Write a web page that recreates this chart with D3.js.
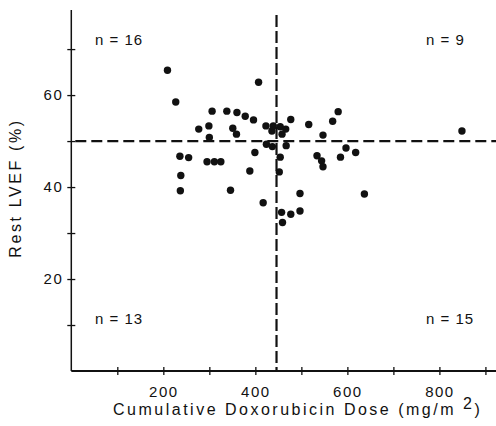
<!DOCTYPE html>
<html>
<head>
<meta charset="utf-8">
<script src="https://cdn.jsdelivr.net/npm/d3@7"></script>
<style>
  body { margin: 0; background: #fff; }
  text { font-family: "Liberation Sans", Arial, sans-serif; fill: #111; }
</style>
</head>
<body>
<script>
// LVEF vs cumulative doxorubicin dose scatter

// data
var dose = [209, 227, 306, 338, 360, 378, 396, 277, 299, 351, 359, 300, 407, 423, 436, 439,
            454, 466, 458, 477, 516, 568, 580, 547, 849,
            236, 255, 295, 311, 325, 399, 388, 238, 237, 346, 417, 424, 437,
            467, 454, 452, 534, 544, 547, 597, 618, 585, 497, 637, 457, 477, 497, 459];
var lvef = [65.4, 58.5, 56.5, 56.5, 56.2, 55.4, 54.6, 52.6, 53.3, 52.8, 51.5, 50.8, 62.8, 53.3, 52.2, 53.3,
            53.1, 52.6, 51.5, 54.7, 53.6, 54.3, 56.4, 51.3, 52.2,
            46.7, 46.4, 45.5, 45.5, 45.5, 47.5, 43.5, 42.5, 39.2, 39.3, 36.6, 49.3, 48.8,
            49.0, 46.5, 43.3, 46.8, 45.7, 44.4, 48.5, 47.5, 46.5, 38.6, 38.5, 34.5, 34.1, 34.8, 32.3];

var xTicks = [100, 200, 300, 400, 500, 600, 700, 800, 900];
var xLabels = [200, 400, 600, 800];
var yTicks = [10, 20, 30, 40, 50, 60, 70];
var yLabels = [20, 40, 60];

var cutDose = 446;
var cutLvef = 50;

var quadLabels = ["n = 16", "n = 9", "n = 13", "n = 15"];

var width = 496;
var height = 426;

// scales
var x = d3.scaleLinear().domain([0, 923]).range([71.3, 496]);
var y = d3.scaleLinear().domain([0, 78.5]).range([371, 10]);

var svg = d3.select("body").append("svg")
    .attr("width", width)
    .attr("height", height);

// axes
var xAxis = svg.append("g")
    .attr("transform", "translate(0," + y(0) + ")")
    .call(d3.axisBottom(x).tickValues(xTicks).tickSize(0).tickPadding(15)
      .tickFormat(function(d) { return xLabels.indexOf(d) >= 0 ? d : ""; }));

var yAxis = svg.append("g")
    .attr("transform", "translate(" + x(0) + ",0)")
    .call(d3.axisLeft(y).tickValues(yTicks).tickSize(0).tickPadding(8)
      .tickFormat(function(d) { return yLabels.indexOf(d) >= 0 ? d : ""; }));

// custom domain lines so they run edge to edge
xAxis.select(".domain").remove();
yAxis.select(".domain").remove();
svg.append("line")
    .attr("x1", x(0)).attr("x2", width)
    .attr("y1", y(0)).attr("y2", y(0))
    .attr("stroke", "#111").attr("stroke-width", 2);
svg.append("line")
    .attr("x1", x(0)).attr("x2", x(0))
    .attr("y1", y(78.5)).attr("y2", y(0))
    .attr("stroke", "#111").attr("stroke-width", 1.5);

// crossing ticks
xAxis.selectAll(".tick line").attr("y1", -4).attr("y2", 4).attr("stroke", "#111").attr("stroke-width", 1.3);
yAxis.selectAll(".tick line").attr("x1", -4).attr("x2", 4).attr("stroke", "#111").attr("stroke-width", 1.3);

svg.selectAll(".tick text")
    .style("font-family", "'Liberation Sans', Arial, sans-serif")
    .style("font-size", "15px")
    .style("letter-spacing", "1.5px")
    .attr("fill", "#111");

// axis titles
var xTitle = svg.append("text")
    .attr("x", 113)
    .attr("y", 415)
    .style("font-size", "16px")
    .style("letter-spacing", "2.5px")
    .text("Cumulative Doxorubicin Dose (mg/m ");
xTitle.append("tspan")
    .attr("dy", -6)
    .text("2");
xTitle.append("tspan")
    .attr("dy", 6)
    .text(")");

svg.append("text")
    .attr("transform", "translate(21," + 188 + ") rotate(-90)")
    .attr("text-anchor", "middle")
    .style("font-size", "16px")
    .style("letter-spacing", "2.6px")
    .text("Rest LVEF (%)");

// dashed cut lines
svg.append("line")
    .attr("x1", x(0) + 4).attr("x2", width)
    .attr("y1", y(cutLvef)).attr("y2", y(cutLvef))
    .attr("stroke", "#111").attr("stroke-width", 2.2)
    .attr("stroke-dasharray", "11,5");
svg.append("line")
    .attr("x1", x(cutDose)).attr("x2", x(cutDose))
    .attr("y1", 15).attr("y2", y(0))
    .attr("stroke", "#111").attr("stroke-width", 2.2)
    .attr("stroke-dasharray", "12,4");

// points
svg.selectAll(".dot")
    .data(dose)
  .enter().append("circle")
    .attr("class", "dot")
    .attr("cx", function(d) { return x(d); })
    .attr("cy", function(d, i) { return y(lvef[i]); })
    .attr("r", 3.7)
    .attr("fill", "#111");

// quadrant counts
var quadPos = [[95, 45], [426, 45], [95, 324], [426, 324]];
svg.selectAll(".quad")
    .data(quadLabels)
  .enter().append("text")
    .attr("class", "quad")
    .attr("x", function(d, i) { return quadPos[i][0]; })
    .attr("y", function(d, i) { return quadPos[i][1]; })
    .style("font-size", "15px")
    .style("letter-spacing", "1px")
    .text(function(d) { return d; });
</script>
</body>
</html>
